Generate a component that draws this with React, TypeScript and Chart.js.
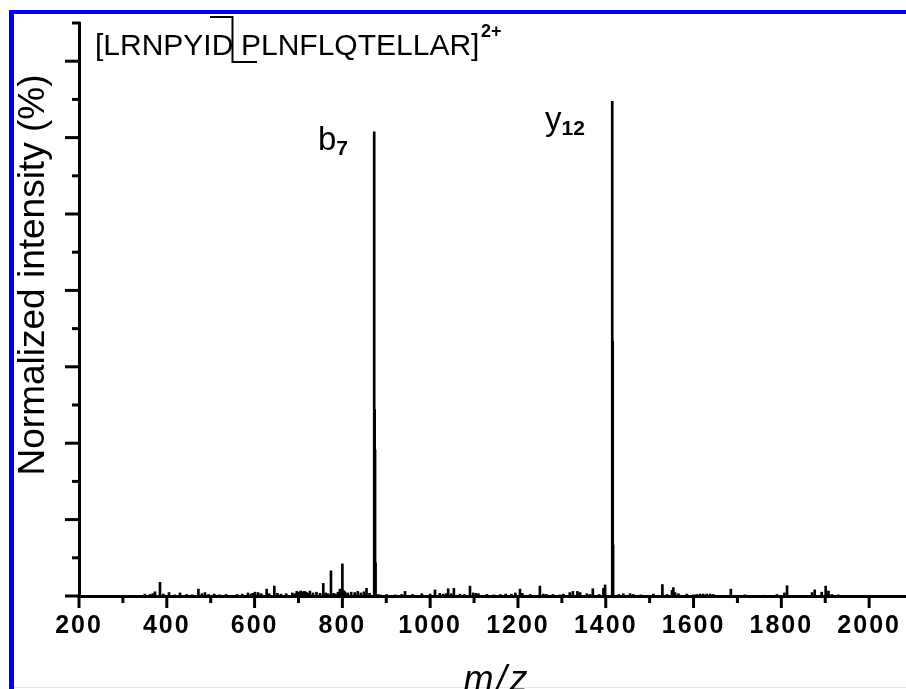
import { useEffect, useRef } from 'react';
import { Chart, registerables } from 'chart.js';

Chart.register(...registerables);

// ---- data ----
const peakMz = [
  350, 362, 368, 373, 384.5, 392, 405, 418, 430, 445, 458, 472, 480, 487, 495, 508, 520, 535, 560, 572,
  585, 592, 596, 601, 608, 615, 627.5, 633, 645, 652, 660, 672, 686, 692, 696, 700, 705, 710, 714, 718,
  722, 726, 733, 741, 749, 756.5, 762, 767, 774, 780, 786, 790, 794.5, 800, 803, 806, 812, 820, 828, 835,
  842, 849, 855, 862, 872.5, 873.5, 874.5, 875.5, 880, 886, 901, 920, 935, 942.7, 960, 981, 1000, 1011, 1022, 1030,
  1037, 1041, 1048, 1054, 1068, 1078, 1090.7, 1098, 1104, 1110, 1129, 1145, 1160, 1172, 1185, 1194, 1204.6, 1210, 1228, 1250,
  1258, 1265, 1280, 1296, 1303.5, 1318, 1325, 1335.5, 1341.5, 1357, 1364, 1370.5, 1385, 1394.7, 1398.5, 1414.8, 1415.8, 1416.8, 1430, 1440,
  1455.5, 1463, 1480, 1508.6, 1529, 1540, 1551, 1554, 1558, 1565.6, 1584.7, 1600, 1607, 1615, 1622, 1630, 1638, 1645, 1685, 1717,
  1760, 1790, 1807, 1813, 1870, 1876, 1892, 1901, 1907.4, 1915, 1930,
];
const peakIntensity = [
  0.5, 0.4, 0.6, 1.1, 3.6, 0.5, 0.9, 0.3, 0.8, 0.4, 0.3, 1.8, 0.6, 0.9, 0.4, 0.5, 0.3, 0.4, 0.4, 0.5,
  0.8, 0.5, 0.7, 1.0, 0.9, 0.6, 1.8, 0.6, 2.6, 0.7, 0.5, 0.6, 0.8, 0.6, 1.2, 1.0, 1.3, 1.1, 1.2, 1.0,
  0.7, 1.3, 0.8, 1.0, 0.7, 3.3, 0.8, 0.6, 6.6, 0.7, 0.5, 1.0, 1.8, 8.4, 1.4, 1.1, 0.8, 1.0, 0.9, 1.2,
  0.8, 1.1, 2.0, 0.7, 121.5, 48.8, 38.3, 8.7, 0.4, 0.3, 0.4, 0.3, 0.4, 1.2, 0.4, 0.6, 0.5, 1.6, 0.7, 0.5,
  0.6, 1.9, 0.6, 2.0, 0.5, 0.4, 2.6, 0.8, 0.7, 0.6, 0.4, 0.3, 0.4, 0.5, 0.5, 0.8, 1.8, 0.7, 0.4, 2.6,
  0.5, 0.4, 0.4, 0.3, 0.5, 0.9, 1.2, 1.2, 0.9, 0.6, 0.4, 1.9, 0.4, 2.0, 2.9, 129.5, 66.7, 13.4, 0.4, 0.6,
  0.6, 0.4, 0.3, 0.5, 3.0, 0.4, 1.5, 2.2, 0.9, 0.6, 0.5, 0.3, 0.4, 0.5, 0.5, 0.5, 0.5, 0.4, 1.8, 0.3,
  0.2, 0.4, 0.8, 2.7, 0.9, 1.6, 1.0, 2.6, 1.3, 0.4, 0.3,
];

const xTickLabels = ['200', '400', '600', '800', '1000', '1200', '1400', '1600', '1800', '2000'];
const xTitle = 'm/z';
const yTitle = 'Normalized intensity (%)';
const precursorNTerm = '[LRNPYID';
const precursorCTerm = 'PLNFLQTELLAR]';
const precursorCharge = '2+';
const fragmentIons = ['b', 'y'];
const fragmentNumbers = ['7', '12'];

const W = 906;
const H = 689;
const FONT = '"Liberation Sans", Arial, Helvetica, sans-serif';

export default function App() {
  const ref = useRef<HTMLCanvasElement | null>(null);

  useEffect(() => {
    document.body.style.margin = '0';
    const canvas = ref.current;
    if (!canvas) return;

    const decor = {
      id: 'decor',
      beforeDraw(chart: any) {
        const ctx = chart.ctx as CanvasRenderingContext2D;
        ctx.save();
        ctx.fillStyle = '#ffffff';
        ctx.fillRect(0, 0, W, H);
        ctx.fillStyle = '#0000ff';
        ctx.fillRect(9, 10, 5, H - 10);
        ctx.fillRect(9, 10, W - 9, 4);
        ctx.fillStyle = '#e4e4fb';
        ctx.fillRect(14, H - 2, W - 14, 1);
        ctx.restore();
        (ctx as any).letterSpacing = '2px';
      },
      beforeDatasetsDraw(chart: any) {
        (chart.ctx as any).letterSpacing = '0px';
      },
      afterDraw(chart: any) {
        const ctx = chart.ctx as CanvasRenderingContext2D;
        const xs = chart.scales.x;
        const ys = chart.scales.y;
        const base = ys.getPixelForValue(0);
        const left = chart.chartArea.left;
        ctx.save();
        (ctx as any).letterSpacing = '0px';
        ctx.strokeStyle = '#000';
        ctx.lineWidth = 3;
        ctx.lineCap = 'butt';
        xs.ticks.forEach((t: any) => {
          const px = xs.getPixelForValue(t.value);
          const len = t.value % 200 === 0 ? 12 : 7;
          ctx.beginPath();
          ctx.moveTo(px, base);
          ctx.lineTo(px, base + len);
          ctx.stroke();
        });
        ys.ticks.forEach((t: any) => {
          const py = ys.getPixelForValue(t.value);
          const len = t.value % 20 === 0 ? 14 : 7;
          ctx.beginPath();
          ctx.moveTo(left + 1.5, py);
          ctx.lineTo(left - len, py);
          ctx.stroke();
        });

        ctx.fillStyle = '#000';
        // y title
        ctx.save();
        ctx.font = `37px ${FONT}`;
        ctx.translate(44, 275);
        ctx.rotate(-Math.PI / 2);
        ctx.textAlign = 'center';
        ctx.textBaseline = 'alphabetic';
        ctx.fillText(yTitle, 0, 0);
        ctx.restore();

        // x title
        ctx.save();
        ctx.font = `italic 36px ${FONT}`;
        (ctx as any).letterSpacing = '3px';
        ctx.textAlign = 'center';
        ctx.textBaseline = 'alphabetic';
        ctx.fillText(xTitle, 497, 691);
        ctx.restore();

        // precursor sequence
        ctx.textAlign = 'left';
        ctx.textBaseline = 'alphabetic';
        ctx.font = `30px ${FONT}`;
        ctx.fillText(precursorNTerm, 95, 55);
        ctx.fillText(precursorCTerm, 241, 55);
        ctx.font = `bold 18px ${FONT}`;
        ctx.fillText(precursorCharge, 481, 37);
        ctx.lineWidth = 2;
        ctx.beginPath();
        ctx.moveTo(210, 17);
        ctx.lineTo(232.5, 17);
        ctx.lineTo(232.5, 62);
        ctx.lineTo(257, 62);
        ctx.stroke();

        // fragment labels
        const labelPos = [
          { x: 318, y: 150, sub: 155 },
          { x: 545, y: 130, sub: 135 },
        ];
        fragmentIons.forEach((ion, i) => {
          const p = labelPos[i];
          ctx.font = `33px ${FONT}`;
          ctx.fillText(ion, p.x, p.y);
          const w = ctx.measureText(ion).width;
          ctx.font = `bold 21px ${FONT}`;
          ctx.fillText(fragmentNumbers[i], p.x + w, p.sub);
        });
        ctx.restore();
      },
    };

    const chart = new Chart(canvas, {
      type: 'bar',
      data: {
        datasets: [
          {
            data: peakMz.map((x, i) => ({ x, y: peakIntensity[i] })),
            backgroundColor: '#000',
            borderWidth: 0,
            barThickness: 2,
          } as any,
        ],
      },
      options: {
        responsive: false,
        animation: false,
        devicePixelRatio: 1,
        layout: { padding: { top: 23, left: 0, right: 0, bottom: 0 } },
        plugins: { legend: { display: false }, tooltip: { enabled: false } },
        scales: {
          x: {
            type: 'linear',
            min: 200,
            max: 2084,
            offset: false,
            grid: {
              display: true,
              drawOnChartArea: false,
              drawTicks: true,
              tickLength: 15,
              tickColor: 'rgba(0,0,0,0)',
              offset: false,
            },
            border: { display: true, color: '#000', width: 3 },
            ticks: {
              stepSize: 100,
              includeBounds: false,
              autoSkip: false,
              maxRotation: 0,
              minRotation: 0,
              padding: 0,
              color: '#000',
              font: { family: FONT, size: 25, weight: 'bold' },
              callback: (v: any) => (xTickLabels.includes(String(v)) ? String(v) : ''),
            },
            afterFit: (s: any) => {
              s.height = 93;
            },
          },
          y: {
            type: 'linear',
            min: 0,
            max: 150,
            grid: { display: false, drawTicks: false },
            border: { display: true, color: '#000', width: 3 },
            ticks: { stepSize: 10, display: false },
            afterFit: (s: any) => {
              s.width = 79;
            },
          },
        },
      } as any,
      plugins: [decor],
    });

    return () => chart.destroy();
  }, []);

  return (
    <div style={{ width: W, height: H, position: 'relative' }}>
      <canvas ref={ref} width={W} height={H} style={{ display: 'block' }} />
    </div>
  );
}
